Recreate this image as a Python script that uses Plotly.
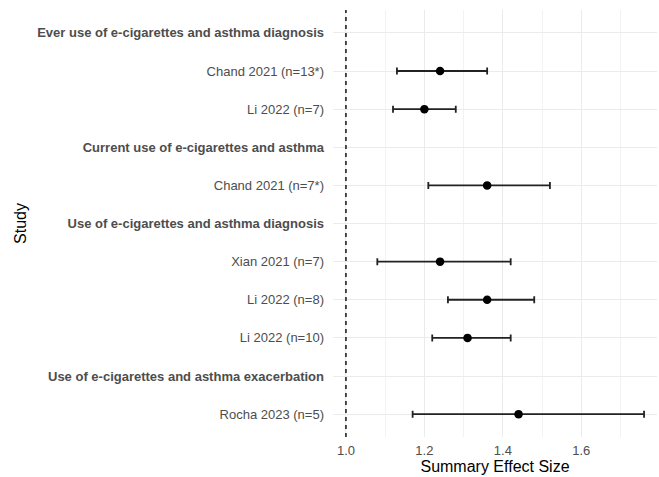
import plotly.graph_objects as go

# Rows from top to bottom; group headers carry no estimate
studies = [
    "Ever use of e-cigarettes and asthma diagnosis",
    "Chand 2021 (n=13*)",
    "Li 2022 (n=7)",
    "Current use of e-cigarettes and asthma",
    "Chand 2021 (n=7*)",
    "Use of e-cigarettes and asthma diagnosis",
    "Xian 2021 (n=7)",
    "Li 2022 (n=8)",
    "Li 2022 (n=10)",
    "Use of e-cigarettes and asthma exacerbation",
    "Rocha 2023 (n=5)",
]
is_header = [True, False, False, True, False, True, False, False, False, True, False]
effect = [None, 1.24, 1.20, None, 1.36, None, 1.24, 1.36, 1.31, None, 1.44]
lower = [None, 1.13, 1.12, None, 1.21, None, 1.08, 1.26, 1.22, None, 1.17]
upper = [None, 1.36, 1.28, None, 1.52, None, 1.42, 1.48, 1.42, None, 1.76]
null_value = 1.0

err_plus = [None if e is None else u - e for e, u in zip(effect, upper)]
err_minus = [None if e is None else e - l for e, l in zip(effect, lower)]
tick_text = [f"<b>{s}</b>" if h else s for s, h in zip(studies, is_header)]

fig = go.Figure()
fig.add_trace(go.Scatter(
    x=effect, y=studies, mode="markers",
    marker=dict(color="black", size=8.5),
    error_x=dict(type="data", symmetric=False, array=err_plus, arrayminus=err_minus,
                 color="#222222", thickness=1.8, width=3.5),
    showlegend=False, cliponaxis=False,
))

fig.add_shape(type="line", x0=null_value, x1=null_value, xref="x", y0=0, y1=1, yref="paper",
              line=dict(color="#222222", width=1.6, dash="4px,4px"), layer="above")

fig.update_layout(
    width=659, height=477,
    margin=dict(l=333, r=2, t=10, b=40),
    plot_bgcolor="white", paper_bgcolor="white",
    font=dict(family="Liberation Sans, Arial, sans-serif", color="#4D4D4D", size=13),
    xaxis=dict(
        range=[0.967, 1.793], tick0=1.0, dtick=0.2, tickformat=".1f",
        showgrid=True, gridcolor="#EBEBEB", gridwidth=1.1,
        minor=dict(dtick=0.1, tick0=1.0, showgrid=True, gridcolor="#F2F2F2", gridwidth=0.8),
        zeroline=False, showline=False, ticks="",
        tickfont=dict(size=13, color="#4D4D4D"), ticklabelstandoff=4,
        title=dict(text="Summary Effect Size", font=dict(size=16, color="black"), standoff=2),
    ),
    yaxis=dict(
        type="category", categoryorder="array", categoryarray=studies,
        range=[len(studies) - 0.4, -0.6],
        tickvals=studies, ticktext=tick_text,
        showgrid=True, gridcolor="#EBEBEB", gridwidth=1.1,
        zeroline=False, showline=False, ticks="",
        tickfont=dict(size=13, color="#4D4D4D"), ticklabelstandoff=8,
        title=dict(text="Study", font=dict(size=16, color="black"), standoff=6),
    ),
)

fig.write_html("out.html")
